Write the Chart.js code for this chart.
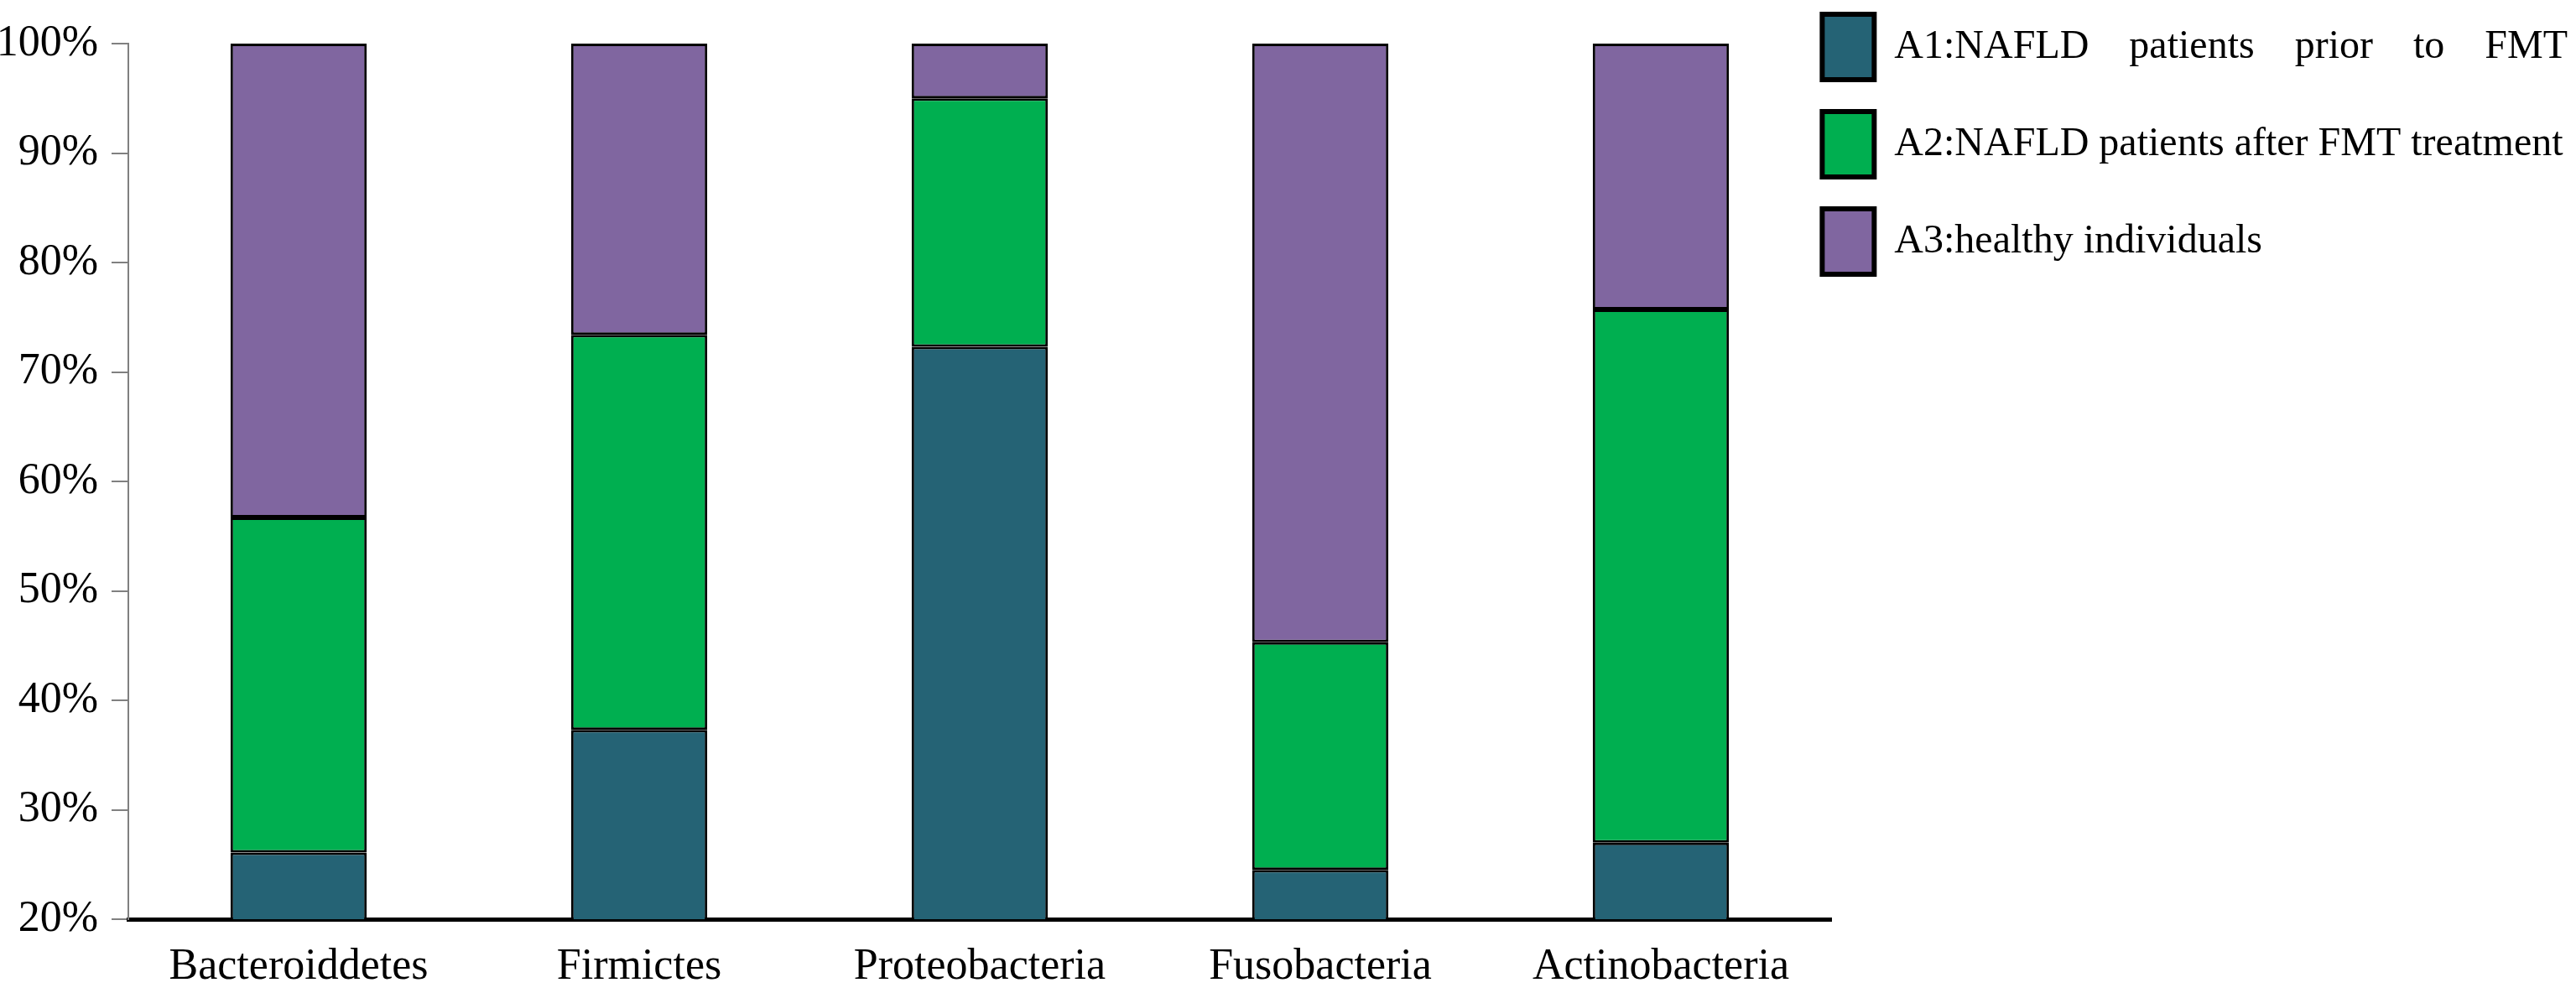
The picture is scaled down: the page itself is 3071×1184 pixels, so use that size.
<!DOCTYPE html>
<html>
<head>
<meta charset="utf-8">
<script src="https://cdn.jsdelivr.net/npm/chart.js@4.4.1/dist/chart.umd.min.js"></script>
<style>
  html, body { margin: 0; padding: 0; background: #fff; overflow: hidden; }
  canvas { display: block; }
</style>
</head>
<body>
<canvas id="c" width="3071" height="1184"></canvas>
<script>
// ---- data ----
const categories = ['Bacteroiddetes', 'Firmictes', 'Proteobacteria', 'Fusobacteria', 'Actinobacteria'];
const seriesNames = [
  'A1:NAFLD patients prior to FMT',
  'A2:NAFLD patients after FMT treatment',
  'A3:healthy individuals'
];
// segment sizes (percent) of each stacked bar
const a1Values = [26.1, 37.3, 72.3, 24.5, 27.0];
const a2Values = [30.6, 36.1, 22.7, 20.8, 48.7];
const a3Values = [43.3, 26.6, 5.0, 54.7, 24.3];
const yTickValues = [20, 30, 40, 50, 60, 70, 80, 90, 100];

const colors = ['#256375', '#00AF50', '#8066A0'];
const serif = "'Liberation Serif', 'Times New Roman', serif";

const extendXAxis = {
  id: 'extendXAxis',
  afterLayout(chart, args, opts) {
    const x = chart.scales.x;
    const right = chart.width - opts.rightInset;
    x.right = right;
    x.width = right - x.left;
    x.configure();
    chart.chartArea.right = right;
    chart.chartArea.width = right - chart.chartArea.left;
  }
};

const seriesData = [a1Values, a2Values, a3Values];

new Chart(document.getElementById('c'), {
  type: 'bar',
  data: {
    labels: categories,
    datasets: seriesNames.map((name, i) => ({
      label: name,
      data: seriesData[i],
      backgroundColor: colors[i],
      borderColor: '#000',
      borderWidth: 3,
      borderSkipped: false,
      barPercentage: 0.4,
      categoryPercentage: 1.0
    }))
  },
  options: {
    responsive: false,
    devicePixelRatio: 1,
    animation: false,
    layout: { padding: { top: -21, left: 0, right: 0, bottom: 0 } },
    plugins: {
      tooltip: { enabled: false },
      extendXAxis: { rightInset: 888 },
      legend: {
        position: 'right',
        align: 'start',
        maxWidth: 1200,
        labels: {
          boxWidth: 62,
          boxHeight: 78,
          padding: 38,
          color: '#000',
          font: { family: serif, size: 48 },
          generateLabels(chart) {
            const items = Chart.defaults.plugins.legend.labels.generateLabels(chart);
            items.forEach((it, i) => {
              it.lineWidth = 6;
              it.strokeStyle = '#000';
              if (i === 0) it.text = it.text.split(' ').join('    ');
            });
            return items;
          }
        }
      }
    },
    scales: {
      x: {
        type: 'category',
        offset: true,
        stacked: true,
        grid: { display: false, drawTicks: false },
        border: { display: true, color: '#000', width: 5 },
        ticks: {
          color: '#000',
          padding: 26,
          maxRotation: 0,
          autoSkip: false,
          font: { family: serif, size: 52 }
        },
        afterFit(s) { s.height = 88; }
      },
      y: {
        stacked: true,
        min: 20,
        max: 100,
        afterBuildTicks(s) { s.ticks = yTickValues.map(v => ({ value: v })); },
        grid: { drawOnChartArea: false, drawTicks: true, tickLength: 20, color: '#808080', lineWidth: 2 },
        border: { display: true, color: '#808080', width: 2 },
        ticks: {
          color: '#000',
          padding: 16,
          font: { family: serif, size: 52 },
          callback: v => v + '%'
        },
        afterFit(s) { s.width = 153; s.paddingTop = 52; }
      }
    }
  },
  plugins: [extendXAxis]
});
</script>
</body>
</html>
